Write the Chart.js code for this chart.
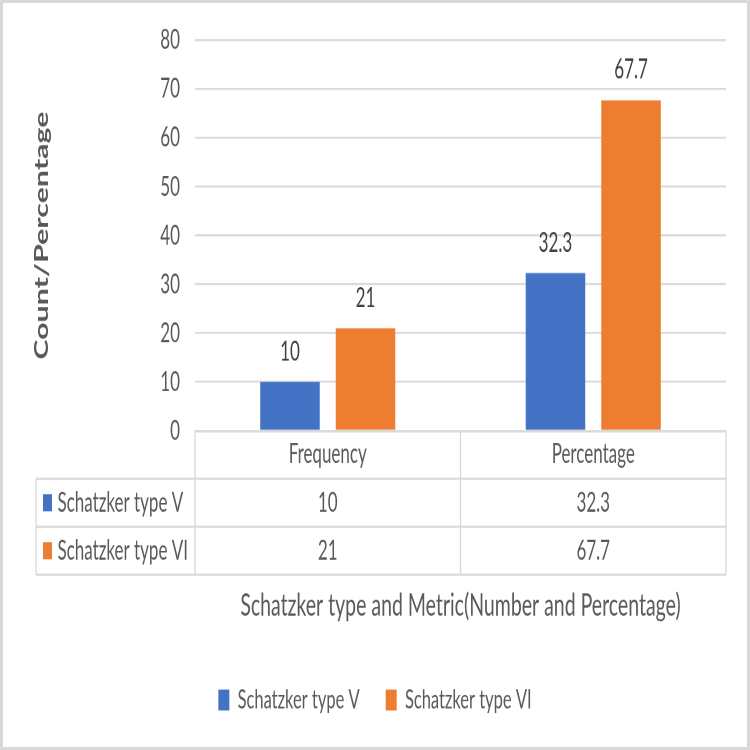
<!DOCTYPE html>
<html><head><meta charset="utf-8">
<script src="https://cdn.jsdelivr.net/npm/chart.js@4.4.1/dist/chart.umd.min.js"></script>
<style>
html,body{margin:0;padding:0;background:#fff;}
#page{position:relative;width:750px;height:750px;overflow:hidden;background:#fff;}
#wrap{position:absolute;left:0;top:0;width:750px;height:469px;transform:scaleY(1.5991);transform-origin:0 0;}
#frame{position:absolute;left:0;top:0;width:750px;height:750px;box-sizing:border-box;border:3px solid #d9d9d9;pointer-events:none;}
</style></head><body>
<div id="page"><div id="wrap"><canvas id="c" width="750" height="469"></canvas></div><div id="frame"></div></div>
<script>
const categories = ['Frequency', 'Percentage'];
const seriesNames = ['Schatzker type V', 'Schatzker type VI'];
const typeV = [10, 32.3];
const typeVI = [21, 67.7];
const yMin = 0, yMax = 80, yStep = 10;
const colors = ['#4472C4', '#ED7D31'];
const xTitle = 'Schatzker type and Metric(Number and Percentage)';
const yTitle = 'Count/Percentage';

const FONT = 'Lato, sans-serif';
const TXT = '#595959';
const LINE = '#d9d9d9';
const ROW_H = 30;
const LEGEND_PAD_BOTTOM = 13;
const PLOT_BOTTOM = 269.4;

const dataLabels = {
  id: 'dataLabels',
  afterDatasetsDraw(chart) {
    const ctx = chart.ctx;
    ctx.save();
    ctx.font = '17px ' + FONT;
    ctx.fillStyle = '#404040';
    ctx.textAlign = 'center';
    ctx.textBaseline = 'middle';
    chart.data.datasets.forEach((ds, di) => {
      chart.getDatasetMeta(di).data.forEach((bar, i) => {
        ctx.fillText(String(ds.data[i]), bar.x, bar.y - 19);
      });
    });
    ctx.restore();
  }
};

const dataTable = {
  id: 'dataTable',
  afterDraw(chart) {
    const ctx = chart.ctx;
    const xs = chart.scales.x;
    const area = chart.chartArea;
    const n = chart.data.labels.length;
    const cw = (area.right - area.left) / n;
    const top = area.bottom;
    const rows = chart.data.datasets.length;
    const bottom = top + ROW_H * (rows + 1);
    const leftCol = 36;
    ctx.save();
    ctx.strokeStyle = LINE;
    ctx.lineWidth = 1.3;
    ctx.beginPath();
    for (let r = 1; r <= rows + 1; r++) {
      const y = top + ROW_H * r;
      ctx.moveTo(leftCol, y); ctx.lineTo(area.right, y);
    }
    ctx.moveTo(leftCol, top + ROW_H); ctx.lineTo(leftCol, bottom);
    for (let i = 0; i <= n; i++) {
      const x = area.left + cw * i;
      ctx.moveTo(x, top); ctx.lineTo(x, bottom);
    }
    ctx.stroke();
    ctx.font = '17px ' + FONT;
    ctx.textBaseline = 'middle';
    chart.data.datasets.forEach((ds, di) => {
      const cy = top + ROW_H * (di + 1) + ROW_H / 2;
      ctx.fillStyle = ds.backgroundColor;
      ctx.fillRect(43, cy - 5.3, 9, 10.6);
      ctx.fillStyle = TXT;
      ctx.textAlign = 'left';
      ctx.fillText(ds.label, 57.5, cy);
      ctx.textAlign = 'center';
      ds.data.forEach((v, i) => {
        ctx.fillText(String(v), xs.getPixelForValue(i), cy);
      });
    });
    ctx.restore();
  }
};

new Chart(document.getElementById('c'), {
  type: 'bar',
  data: {
    labels: categories,
    datasets: [
      { label: seriesNames[0], data: typeV, backgroundColor: colors[0] },
      { label: seriesNames[1], data: typeVI, backgroundColor: colors[1] }
    ]
  },
  options: {
    responsive: false,
    animation: false,
    devicePixelRatio: 2,
    categoryPercentage: 0.569,
    barPercentage: 0.788,
    layout: { padding: { top: 25, left: 0, right: 0, bottom: LEGEND_PAD_BOTTOM } },
    plugins: {
      tooltip: { enabled: false },
      legend: {
        position: 'bottom',
        labels: { font: { family: FONT, size: 16.5 }, color: TXT, boxWidth: 11, boxHeight: 13, padding: 26 }
      }
    },
    scales: {
      x: {
        grid: { display: false, drawTicks: false },
        border: { display: true, color: LINE, width: 1.3 },
        ticks: { font: { family: FONT, size: 17 }, color: TXT, padding: 4.4 },
        title: { display: true, text: xTitle, font: { family: FONT, size: 19.5 }, color: TXT, padding: { top: 10, bottom: 12.9 } },
        afterFit(scale) {
          const lh = scale.chart.legend ? scale.chart.legend.height : 37;
          scale.height = scale.chart.height - LEGEND_PAD_BOTTOM - lh - PLOT_BOTTOM;
        }
      },
      y: {
        min: yMin, max: yMax,
        ticks: { stepSize: yStep, font: { family: FONT, size: 17 }, color: TXT, padding: 15 },
        grid: { color: LINE, lineWidth: 1.3, drawTicks: false },
        border: { display: false },
        title: { display: true, text: yTitle, font: { family: FONT, size: 19, weight: 'bold' }, color: TXT, padding: { top: 30.6, bottom: 0 } },
        afterFit(scale) { scale.width = 195; }
      },
      yRightSpace: {
        type: 'linear',
        position: 'right',
        display: true,
        ticks: { display: false },
        grid: { display: false, drawTicks: false },
        border: { display: false },
        afterFit(scale) { scale.width = 24; }
      }
    }
  },
  plugins: [dataLabels, dataTable]
});
</script>
</body></html>
